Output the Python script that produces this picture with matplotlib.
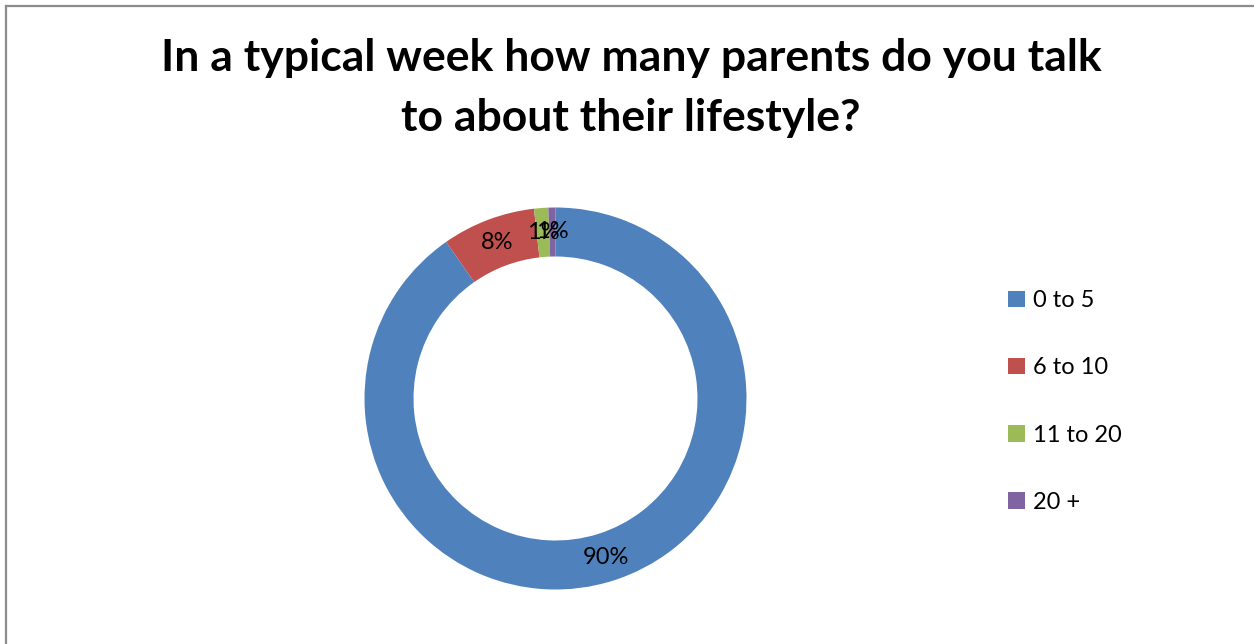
import matplotlib
matplotlib.use("Agg")
import matplotlib.pyplot as plt
from matplotlib.lines import Line2D
from matplotlib.patches import Patch

categories = ["0 to 5", "6 to 10", "11 to 20", "20 +"]
values = [90.3, 7.9, 1.2, 0.6]
colors = ["#4F81BD", "#C0504D", "#9BBB59", "#8064A2"]
title = "In a typical week how many parents do you talk\nto about their lifestyle?"

W, H = 1254, 644
fig = plt.figure(figsize=(W / 100, H / 100), dpi=100)
fig.patch.set_facecolor("white")

# frame (top and left edges visible)
fig.add_artist(Line2D([6 / W, 6 / W], [0, 1 - 5.5 / H], color="#8c8c8c", lw=1.6, transform=fig.transFigure))
fig.add_artist(Line2D([6 / W, 1], [1 - 5.5 / H, 1 - 5.5 / H], color="#8c8c8c", lw=1.6, transform=fig.transFigure))

cx, cy, r = 555.5, H - 398.5, 191
ax = fig.add_axes([(cx - r) / W, (cy - r) / H, 2 * r / W, 2 * r / H])
wedges, texts, autotexts = ax.pie(
    values, colors=colors, startangle=90, counterclock=False, radius=1,
    autopct=lambda p: f"{p:.0f}%", pctdistance=0.872,
    wedgeprops=dict(width=1 - 142 / 191, edgecolor="none"),
    textprops=dict(fontsize=17, family="Lato", color="black"),
)
ax.set_xlim(-1, 1)
ax.set_ylim(-1, 1)
ax.set_aspect("equal")
ax.axis("off")

fig.text(631 / W, 1 - 88 / H, title, ha="center", va="center", fontsize=32,
         fontweight="bold", family="Lato", linespacing=1.6)

handles = [Patch(facecolor=c, edgecolor="none") for c in colors]
leg = fig.legend(handles, categories, loc="center left", bbox_to_anchor=(987 / W, 1 - 401.5 / H),
                 frameon=False, prop=dict(family="Lato", size=17), labelspacing=1.95,
                 handlelength=0.7, handleheight=0.7, handletextpad=0.33)

fig.savefig("out.png", dpi=100, facecolor="white")
